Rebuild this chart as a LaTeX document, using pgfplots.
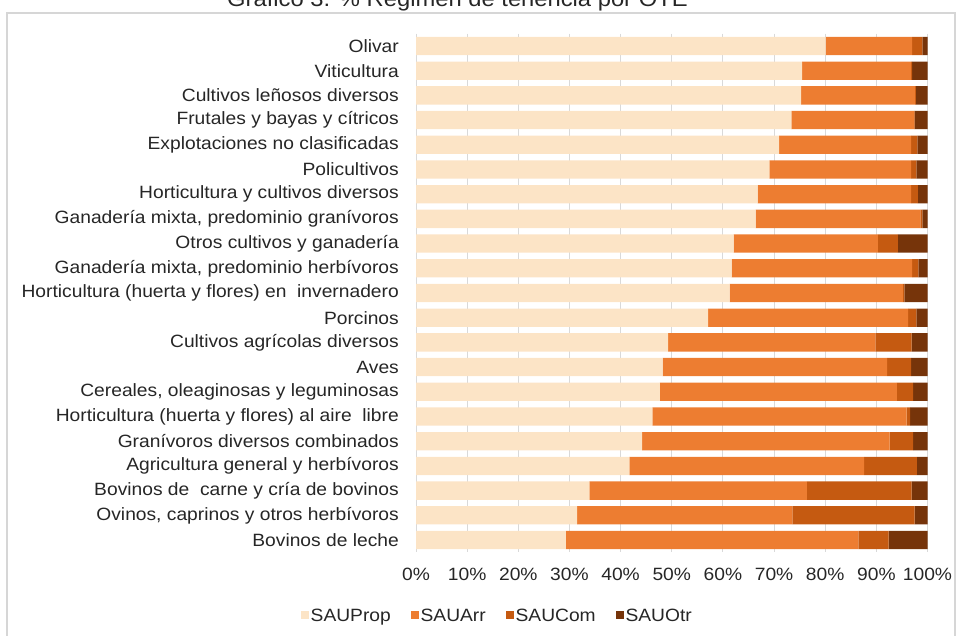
\documentclass[border=0pt]{standalone}
\usepackage{pgfplots}
\pgfplotsset{compat=1.18}
\usepackage{fontspec}
\setmainfont{Liberation Sans}[FakeStretch=1.08]
\definecolor{cProp}{RGB}{252,228,198}
\definecolor{cArr}{RGB}{237,125,49}
\definecolor{cCom}{RGB}{197,90,17}
\definecolor{cOtr}{RGB}{118,52,10}
\definecolor{cGrid}{RGB}{217,217,217}
\definecolor{cText}{RGB}{38,38,38}
\definecolor{cBorder}{RGB}{214,214,214}
\begin{document}
\begin{tikzpicture}[x=1bp,y=1bp]
\useasboundingbox (0,0) rectangle (963,636);
\draw[cBorder, line width=1.3bp] (7,-10) rectangle (955,623);
\node[anchor=base west, inner sep=0pt, text=cText, font=\fontsize{22bp}{25bp}\selectfont] at (227,629) {Gráfico 3. \% Régimen de tenencia por OTE};
\begin{axis}[
  at={(416bp,83.65bp)}, anchor=south west,
  scale only axis, width=511.5bp, height=518.7bp,
  xbar stacked, bar width=18.3bp,
  xmin=0, xmax=100, ymin=-0.5, ymax=20.5, y dir=reverse,
  ytick={0,...,20},
  yticklabels={{Olivar},{Viticultura},{Cultivos leñosos diversos},{Frutales y bayas y cítricos},{Explotaciones no clasificadas},{Policultivos},{Horticultura y cultivos diversos},{Ganadería mixta, predominio granívoros},{Otros cultivos y ganadería},{Ganadería mixta, predominio herbívoros},{Horticultura (huerta y flores) en~ invernadero},{Porcinos},{Cultivos agrícolas diversos},{Aves},{Cereales, oleaginosas y leguminosas},{Horticultura (huerta y flores) al aire~ libre},{Granívoros diversos combinados},{Agricultura general y herbívoros},{Bovinos de~ carne y cría de bovinos},{Ovinos, caprinos y otros herbívoros},{Bovinos de leche}},
  xtick={0,10,...,100},
  xticklabels={0\%,10\%,20\%,30\%,40\%,50\%,60\%,70\%,80\%,90\%,100\%},
  xmajorgrids, grid style={cGrid, line width=1bp},
  axis line style={draw=none}, major tick length=0pt,
  tick label style={text=cText, font=\fontsize{17.8bp}{20bp}\selectfont},
  yticklabel style={anchor=east, inner sep=0pt, xshift=-17bp},
  xticklabel style={anchor=base, inner sep=0pt, yshift=-28.5bp},
  legend columns=4,
  legend style={at={(0.159,-0.1227)}, anchor=center, draw=none, fill=none,
    font=\fontsize{17.8bp}{20bp}\selectfont, text=cText,
    nodes={inner sep=1.5bp},
    /tikz/every even column/.append style={column sep=19bp}},
  legend image code/.code={\fill[#1] (0bp,-3.2bp) rectangle (7.8bp,4.6bp);},
]
\addplot[fill=cProp, draw=none] coordinates {(80.1,0) (75.5,1) (75.3,2) (73.4,3) (71.0,4) (69.1,5) (66.8,6) (66.4,7) (62.1,8) (61.7,9) (61.3,10) (57.1,11) (49.3,12) (48.2,13) (47.7,14) (46.2,15) (44.2,16) (41.7,17) (33.9,18) (31.5,19) (29.3,20)};
\addplot[fill=cArr, draw=none] coordinates {(16.9,0) (21.3,1) (22.3,2) (24.0,3) (25.8,4) (27.7,5) (30.0,6) (32.2,7) (28.2,8) (35.3,9) (33.9,10) (39.1,11) (40.5,12) (43.9,13) (46.3,14) (49.7,15) (48.4,16) (45.9,17) (42.5,18) (42.1,19) (57.2,20)};
\addplot[fill=cCom, draw=none] coordinates {(2.0,0) (0.2,1) (0.1,2) (0.1,3) (1.2,4) (1.0,5) (1.3,6) (0.4,7) (3.9,8) (1.2,9) (0.3,10) (1.6,11) (7.1,12) (4.7,13) (3.2,14) (0.7,15) (4.6,16) (10.3,17) (20.5,18) (23.9,19) (5.9,20)};
\addplot[fill=cOtr, draw=none] coordinates {(1.0,0) (3.0,1) (2.3,2) (2.5,3) (2.0,4) (2.2,5) (1.9,6) (1.0,7) (5.8,8) (1.8,9) (4.5,10) (2.2,11) (3.1,12) (3.2,13) (2.8,14) (3.4,15) (2.8,16) (2.1,17) (3.1,18) (2.5,19) (7.6,20)};
\legend{SAUProp,SAUArr,SAUCom,SAUOtr}
\end{axis}
\end{tikzpicture}
\end{document}
